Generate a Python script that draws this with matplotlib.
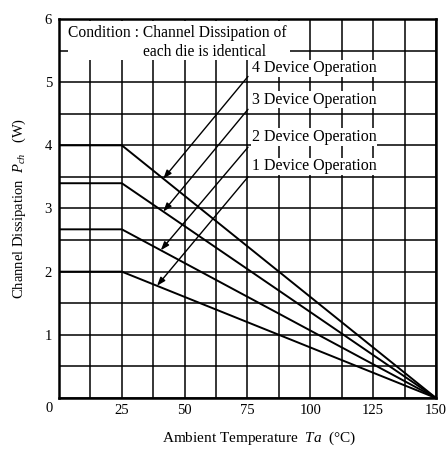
import numpy as np
import matplotlib
matplotlib.use("Agg")
import matplotlib.pyplot as plt
from matplotlib.patches import Rectangle

plt.rcParams["font.family"] = ["Liberation Serif", "DejaVu Serif"]
plt.rcParams["mathtext.fontset"] = "custom"
plt.rcParams["mathtext.it"] = "Liberation Serif:italic"
plt.rcParams["mathtext.rm"] = "Liberation Serif"

# Derating curves: channel dissipation vs ambient temperature
temps = [0, 25, 150]
pd_4dev = [4.0, 4.0, 0.0]
pd_3dev = [3.4, 3.4, 0.0]
pd_2dev = [2.67, 2.67, 0.0]
pd_1dev = [2.0, 2.0, 0.0]
curves = [pd_4dev, pd_3dev, pd_2dev, pd_1dev]

labels = ["4 Device Operation", "3 Device Operation",
          "2 Device Operation", "1 Device Operation"]
label_y = [5.22, 4.72, 4.13, 3.67]
arrow_tail_y = [5.09, 4.57, 3.97, 3.50]
arrow_head_x = [41.5, 41.5, 40.5, 39.0]

x_ticks = [25, 50, 75, 100, 125, 150]
y_ticks = [1, 2, 3, 4, 5, 6]

fig = plt.figure(figsize=(4.48, 4.49), dpi=100)
ax = fig.add_axes([0.1317, 0.1136, 0.8415, 0.8441])

ax.set_xlim(0, 150)
ax.set_ylim(0, 6)
ax.set_xticks(np.arange(0, 150.1, 12.5), minor=True)
ax.set_yticks(np.arange(0, 6.01, 0.5), minor=True)
ax.set_xticks(x_ticks)
ax.set_yticks(y_ticks)
ax.grid(which="both", color="black", linewidth=1.1)
ax.set_axisbelow(True)
ax.tick_params(which="both", length=0)
ax.tick_params(axis="x", pad=4, labelsize=10.5)
ax.tick_params(axis="y", pad=5, labelsize=10.5)
ax.text(-4, -0.16, "0", ha="center", va="center", fontsize=10.5, clip_on=False)
for s in ax.spines.values():
    s.set_linewidth(1.8)

# white area behind the condition note
ax.add_patch(Rectangle((3.4, 5.35), 88.7, 0.62, facecolor="white",
                       edgecolor="none", zorder=1))

for c in curves:
    ax.plot(temps, c, color="black", linewidth=1.4, zorder=2)

for lab, ly, ty, hx, c in zip(labels, label_y, arrow_tail_y, arrow_head_x, curves):
    ax.text(76.6, ly, lab, fontsize=11.5, ha="left", va="center", zorder=3,
            bbox=dict(facecolor="white", edgecolor="none", pad=0.5))
    hy = np.interp(hx, temps, c)
    ax.annotate("", xy=(hx, hy), xytext=(75.2, ty), zorder=3,
                arrowprops=dict(arrowstyle="-|>,head_length=0.5,head_width=0.18",
                                color="black", linewidth=1.0, shrinkA=0, shrinkB=0))

ax.text(3.6, 5.78, "Condition : Channel Dissipation of", fontsize=11.2,
        ha="left", va="center", zorder=3)
ax.text(58, 5.47, "each die is identical", fontsize=11.2,
        ha="center", va="center", zorder=3)

fig.text(259 / 448, 1 - 438 / 449, "Ambient Temperature  $Ta$  (\u00b0C)",
         fontsize=11, ha="center", va="center")
ax.set_ylabel("Channel Dissipation  $P_{ch}$   (W)", fontsize=10.5, labelpad=12)

fig.savefig("out.png", dpi=100)
